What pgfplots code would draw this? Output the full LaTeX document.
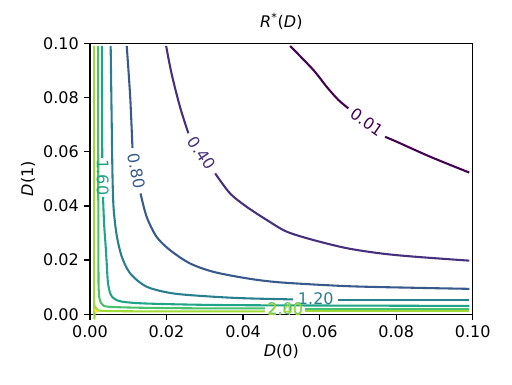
\documentclass[border=0pt]{standalone}
\usepackage{fontspec}
\setmainfont{DejaVu Sans}
\usepackage{pgfplots}
\pgfplotsset{compat=1.18}
\definecolor{lv001}{HTML}{440154}
\definecolor{lv040}{HTML}{46307E}
\definecolor{lv080}{HTML}{38598C}
\definecolor{lv120}{HTML}{297F8E}
\definecolor{lv160}{HTML}{20A386}
\definecolor{lv200}{HTML}{4AC16D}
\definecolor{lv240}{HTML}{A0DA39}
\definecolor{lv280}{HTML}{FDE725}
\pgfplotsset{cl/.style={line width=1.3pt, line join=round, smooth, tension=0.5}}
\newcommand{\clab}[4]{\node[text=#1, rotate=#2, inner sep=0pt, font=\fontsize{10}{12}\selectfont] at (axis cs:#3) {#4};}

\begin{document}
\begin{tikzpicture}
\begin{axis}[
  width=239.2pt, height=169.4pt,
  scale only axis,
  xmin=0, xmax=0.1, ymin=0, ymax=0.1,
  xtick={0,0.02,0.04,0.06,0.08,0.1},
  ytick={0,0.02,0.04,0.06,0.08,0.1},
  scaled ticks=false,
  /pgf/number format/fixed,
  /pgf/number format/fixed zerofill,
  /pgf/number format/precision=2,
  /pgf/number format/assume math mode=true,
  tick align=outside, tick pos=left,
  major tick length=3.5pt,
  every tick/.style={black, line width=0.8pt},
  axis line style={black, line width=0.8pt},
  ticklabel style={font=\fontsize{10}{12}\selectfont},
  xlabel={\textit{D}(0)},
  ylabel={\textit{D}(1)},
  title={\textit{R}\textsuperscript{*}(\textit{D})},
  label style={font=\fontsize{10}{12}\selectfont},
  title style={font=\fontsize{10}{12}\selectfont, at={(axis description cs:0.5,1.0466)}, anchor=center},
  xlabel style={at={(axis description cs:0.5,-0.138)}, anchor=center},
  ylabel style={at={(axis description cs:-0.162,0.5)}, anchor=center, rotate=0},
  clip=false,
]
% level 0.01
\addplot[cl, lv001] coordinates {(0.0523,0.0990) (0.0584,0.0901) (0.0618,0.0840) (0.0649,0.0791) (0.0675,0.0760)};
\addplot[cl, lv001] coordinates {(0.0771,0.0655) (0.0801,0.0637) (0.0888,0.0582) (0.0991,0.0523)};
% level 0.40
\addplot[cl, lv040] coordinates {(0.0199,0.0990) (0.0213,0.0889) (0.0235,0.0766) (0.0257,0.0668)};
\addplot[cl, lv040] coordinates {(0.0327,0.0520) (0.0366,0.0446) (0.0409,0.0397) (0.0462,0.0348) (0.0514,0.0305) (0.0584,0.0274) (0.0671,0.0244) (0.0758,0.0225) (0.0845,0.0213) (0.0991,0.0198)};
% level 0.80
\addplot[cl, lv080] coordinates {(0.0096,0.0990) (0.0105,0.0803) (0.0111,0.0613)};
\addplot[cl, lv080] coordinates {(0.0132,0.0446) (0.0148,0.0360) (0.0174,0.0286) (0.0209,0.0237) (0.0261,0.0188) (0.0322,0.0157) (0.0409,0.0133) (0.0496,0.0118) (0.0671,0.0104) (0.0845,0.0098) (0.0991,0.0094)};
% level 1.20
\addplot[cl, lv120] coordinates {(0.0054,0.0990) (0.0057,0.0680) (0.0059,0.0496) (0.0062,0.0385) (0.0070,0.0290) (0.0083,0.0213) (0.0105,0.0151) (0.0148,0.0102) (0.0218,0.0077) (0.0322,0.0065) (0.0409,0.0059) (0.0531,0.0055)};
\addplot[cl, lv120] coordinates {(0.0649,0.0053) (0.0991,0.0053)};
% level 1.60
\addplot[cl, lv160] coordinates {(0.0031,0.0990) (0.0032,0.0577)};
\addplot[cl, lv160] coordinates {(0.0034,0.0433) (0.0037,0.0330) (0.0041,0.0250) (0.0044,0.0180) (0.0047,0.0115) (0.0053,0.0077) (0.0062,0.0059) (0.0083,0.0047) (0.0144,0.0040) (0.0300,0.0035) (0.0500,0.0033) (0.0991,0.0031)};
% level 2.00
\addplot[cl, lv200] coordinates {(0.0021,0.0990) (0.0022,0.0200) (0.0023,0.0085) (0.0026,0.0052) (0.0032,0.0037) (0.0048,0.0028) (0.0144,0.0024) (0.0300,0.0022) (0.0457,0.0022)};
\addplot[cl, lv200] coordinates {(0.0562,0.0021) (0.0991,0.0021)};
% level 2.40
\addplot[cl, lv240] coordinates {(0.0011,0.0990) (0.0011,0.0047) (0.0013,0.0030) (0.0018,0.0019) (0.0031,0.0013) (0.0144,0.0011) (0.0457,0.0011)};
\addplot[cl, lv240] coordinates {(0.0562,0.0011) (0.0991,0.0011)};
% level 2.80
\addplot[cl, lv280] coordinates {(0.0011,0.0018) (0.0020,0.0008)};
% contour labels
\clab{lv001}{-35}{0.0723,0.0708}{0.01}
\clab{lv040}{-56}{0.0292,0.0594}{0.40}
\clab{lv080}{-80}{0.0122,0.0530}{0.80}
\clab{lv160}{-90}{0.0033,0.0505}{1.60}
\clab{lv120}{0}{0.0590,0.0059}{1.20}
\clab{lv200}{0}{0.0510,0.0022}{2.00}
\clab{lv240}{0}{0.0510,0.0016}{2.40}
\end{axis}
\path ([shift={(-56.25pt,-43.56pt)}]current axis.south west) rectangle ([shift={(24.56pt,27.06pt)}]current axis.north east);
\end{tikzpicture}
\end{document}
